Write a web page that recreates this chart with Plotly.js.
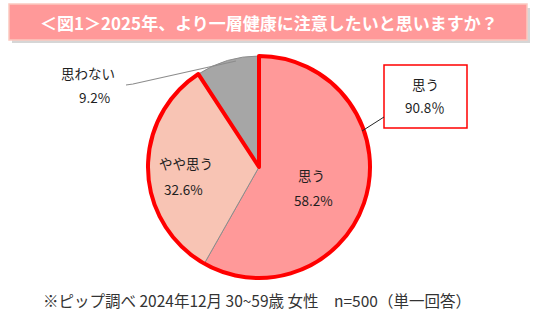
<!DOCTYPE html>
<html>
<head>
<meta charset="utf-8">
<script src="https://cdn.plot.ly/plotly-3.0.1.min.js"></script>
<style>
  html, body { margin: 0; padding: 0; background: #fff; }
  #chart { width: 536px; height: 323px; }
</style>
</head>
<body>
<div id="chart"></div>
<script>
// Survey answers (share of respondents, %)
const labels = ['思う', 'やや思う', '思わない'];
const values = [58.2, 32.6, 9.2];
const colors = ['#FF9999', '#F8C4B4', '#A6A6A6'];

const titleText = '＜図1＞2025年、より一層健康に注意したいと思いますか？';
const noteText = '※ピップ調べ 2024年12月 30~59歳 女性　n=500（単一回答）';

// "思う" + "やや思う" combined
const positive = Math.round((values[0] + values[1]) * 10) / 10;

const W = 536, H = 323;
const cx = 259, cy = 167, R = 111;
const dom = {
  x: [(cx - R) / W, (cx + R) / W],
  y: [1 - (cy + R) / H, 1 - (cy - R) / H]
};
const font = 'Noto Sans CJK JP, Noto Sans, sans-serif';

const base = {
  type: 'pie',
  labels: labels,
  values: values,
  sort: false,
  direction: 'clockwise',
  rotation: 0,
  textinfo: 'none',
  hoverinfo: 'label+percent',
  domain: dom,
  marker: { colors: colors, line: { color: '#8C8C8C', width: 1 } },
  showlegend: false
};

// Red outline around the combined positive share
const outline = {
  type: 'pie',
  labels: ['肯定', '否定'],
  values: [positive, values[2]],
  sort: false,
  direction: 'clockwise',
  rotation: 0,
  textinfo: 'none',
  hoverinfo: 'skip',
  domain: dom,
  marker: {
    colors: ['rgba(0,0,0,0)', 'rgba(0,0,0,0)'],
    line: { color: ['#FF0000', 'rgba(0,0,0,0)'], width: [4, 0] }
  },
  showlegend: false
};

const txt = (x, y, text, size, color, extra) => Object.assign({
  x: x / W, y: 1 - y / H, xref: 'paper', yref: 'paper',
  text: text, showarrow: false,
  font: { family: font, size: size, color: color || '#1F1F1F' },
  xanchor: 'center', yanchor: 'middle'
}, extra || {});

const annotations = [
  txt(269, 22, '<b>' + titleText + '</b>', 17, '#FFFFFF'),
  txt(88, 73, labels[2], 13.5),
  txt(94, 97, values[2].toFixed(1) + '%', 13.5),
  txt(186, 163, labels[1], 13.5),
  txt(183, 189, values[1].toFixed(1) + '%', 13.5),
  txt(311, 175, labels[0], 13.5),
  txt(313, 200, values[0].toFixed(1) + '%', 13.5),
  txt(425, 84, labels[0], 13.5),
  txt(425, 107, positive.toFixed(1) + '％', 13.5),
  txt(257, 300, noteText, 15.5, '#333333')
];

const px = v => v / W, py = v => 1 - v / H;
const shapes = [
  // banner shadow + banner
  { type: 'rect', xref: 'paper', yref: 'paper', x0: px(12), x1: px(530), y0: py(8), y1: py(43),
    fillcolor: 'rgba(120,120,120,0.3)', line: { width: 0 } },
  { type: 'rect', xref: 'paper', yref: 'paper', x0: px(9), x1: px(527), y0: py(4), y1: py(40),
    fillcolor: '#FF9999', line: { color: '#FBC9C0', width: 1.5 } },
  // leader for "思わない"
  { type: 'path', xref: 'paper', yref: 'paper',
    path: `M ${px(126)} ${py(85)} L ${px(133)} ${py(84)} L ${px(236)} ${py(61)}`,
    line: { color: '#8C8C8C', width: 1.2 } },
  // box for combined share
  { type: 'rect', xref: 'paper', yref: 'paper', x0: px(384), x1: px(467), y0: py(65), y1: py(128),
    fillcolor: '#FFFFFF', line: { color: '#FF0000', width: 1.5 } },
  { type: 'line', xref: 'paper', yref: 'paper', x0: px(384), x1: px(362), y0: py(117), y1: py(131),
    line: { color: '#262626', width: 1 } }
];

Plotly.newPlot('chart', [base, outline], {
  width: W, height: H,
  margin: { l: 0, r: 0, t: 0, b: 0 },
  paper_bgcolor: '#FFFFFF',
  annotations: annotations,
  shapes: shapes
}, { displayModeBar: false, staticPlot: true });
</script>
</body>
</html>
